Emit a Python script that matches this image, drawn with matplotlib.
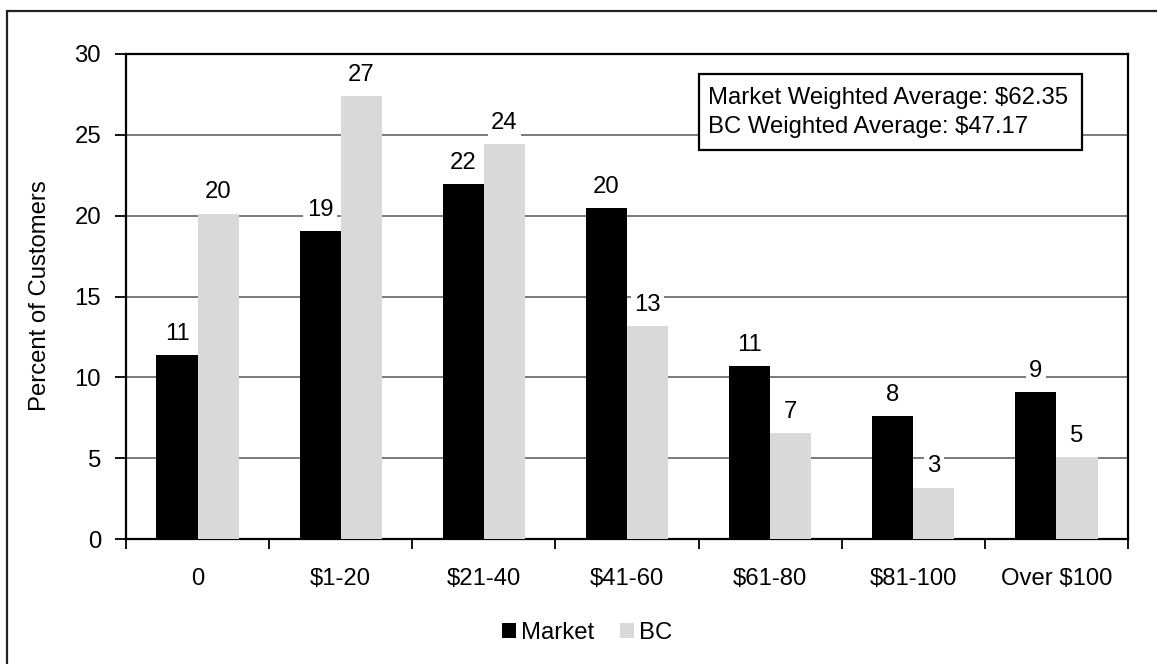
import matplotlib
matplotlib.use("Agg")
import matplotlib.pyplot as plt
from matplotlib.patches import Rectangle, Patch
import numpy as np

plt.rcParams['font.family'] = ['Liberation Sans', 'DejaVu Sans']

categories = ["0", "$1-20", "$21-40", "$41-60", "$61-80", "$81-100", "Over $100"]
market = [11.38, 19.03, 21.97, 20.45, 10.68, 7.59, 9.09]
bc = [20.12, 27.38, 24.41, 13.15, 6.54, 3.17, 5.07]
series_names = ["Market", "BC"]
yticks = [0, 5, 10, 15, 20, 25, 30]
info_lines = ["Market Weighted Average: $62.35", "BC Weighted Average: $47.17"]
ylabel = "Percent of Customers"

FS = 17.2
W, H = 1157, 664
fig = plt.figure(figsize=(W / 100, H / 100), dpi=100)
fig.patch.set_facecolor("white")

# outer border (only left/top visible)
fig.patches.append(Rectangle((7 / W, -0.2), 1.5, (1 - 11 / H) + 0.2,
                             transform=fig.transFigure, fill=False,
                             edgecolor="#222222", linewidth=1.6, clip_on=False))

ax = fig.add_axes([126 / W, 1 - 539 / H, (1128 - 126) / W, (539 - 54) / H])

x = np.arange(len(categories))
bw = 0.287
b1 = ax.bar(x - bw / 2, market, bw, color="black", label=series_names[0], zorder=3)
b2 = ax.bar(x + bw / 2, bc, bw, color="#d9d9d9", label=series_names[1], zorder=3)

for bars, vals in ((b1, market), (b2, bc)):
    for rect, v in zip(bars, vals):
        ax.annotate(f"{round(v):d}", (rect.get_x() + rect.get_width() / 2, v),
                    xytext=(0, 11), textcoords="offset points",
                    ha="center", va="baseline", fontsize=FS, zorder=4,
                    bbox=dict(boxstyle="square,pad=0.15", fc="white", ec="none"))

ax.set_xlim(-0.5, len(categories) - 0.5)
ax.set_ylim(0, 30)
ax.set_yticks(yticks)
ax.set_yticklabels([str(t) for t in yticks], fontsize=FS)
ax.tick_params(axis="y", direction="out", length=8, width=1.3, pad=10)
ax.yaxis.grid(True, color="#707070", linewidth=1.3, zorder=0)
ax.set_axisbelow(True)

ax.set_xticks(x)
ax.set_xticklabels(categories, fontsize=FS)
ax.tick_params(axis="x", which="major", length=0, pad=21)
ax.set_xticks(np.arange(-0.5, len(categories)), minor=True)
ax.tick_params(axis="x", which="minor", direction="out", length=7, width=1.3)

for s in ax.spines.values():
    s.set_linewidth(1.6)
    s.set_color("black")

fig.text(40 / W, 1 - 296 / H, ylabel, rotation=90, ha="center", va="center", fontsize=FS)

# info box
bx0, bx1 = (699 - 126) / 1002, (1082 - 126) / 1002
by0, by1 = (539 - 150) / 485, (539 - 74) / 485
ax.add_patch(Rectangle((bx0, by0), bx1 - bx0, by1 - by0, transform=ax.transAxes,
                       facecolor="white", edgecolor="black", linewidth=1.6, zorder=5))
ax.text((708 - 126) / 1002, (539 - 98) / 485, info_lines[0], transform=ax.transAxes,
        ha="left", va="center", fontsize=FS, zorder=6)
ax.text((708 - 126) / 1002, (539 - 127) / 485, info_lines[1], transform=ax.transAxes,
        ha="left", va="center", fontsize=FS, zorder=6)

handles = [Patch(facecolor="black", edgecolor="none"), Patch(facecolor="#d9d9d9", edgecolor="none")]
fig.legend(handles, series_names, loc="center", bbox_to_anchor=(587 / W, 1 - 633 / H),
           ncol=2, frameon=False, fontsize=FS, handlelength=0.6, handleheight=0.6,
           handletextpad=0.2, columnspacing=1.1)

fig.savefig("out.png", dpi=100, facecolor="white")
